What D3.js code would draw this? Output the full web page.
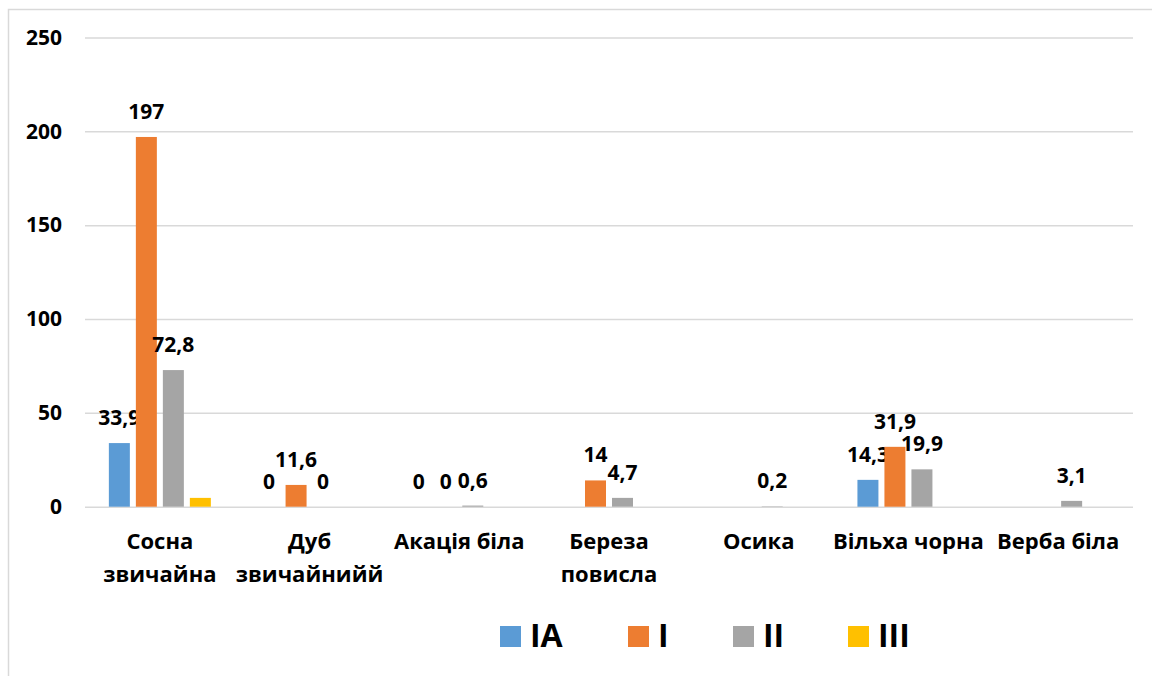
<!DOCTYPE html>
<html><head><meta charset="utf-8">
<script src="https://cdn.jsdelivr.net/npm/d3@7"></script>
<style>body{margin:0;background:#fff;}svg{display:block;font-family:"Open Sans",sans-serif;font-weight:bold;}</style>
</head><body>
<svg id="c" width="1152" height="676"></svg>
<script>
const categories = [["Сосна","звичайна"],["Дуб","звичайнийй"],["Акація біла"],["Береза","повисла"],["Осика"],["Вільха чорна"],["Верба біла"]];
const seriesNames = ["IA","I","II","III"];
const colors = ["#5B9BD5","#ED7D31","#A5A5A5","#FFC000"];
const valuesIA  = [33.9, 0, 0, null, null, 14.3, null];
const valuesI   = [197, 11.6, 0, 14, null, 31.9, null];
const valuesII  = [72.8, 0, 0.6, 4.7, 0.2, 19.9, 3.1];
const valuesIII = [4.7, null, null, null, null, null, null];
const labelled  = [true, true, true, false];
const yTicks = [0, 50, 100, 150, 200, 250];

const allValues = [valuesIA, valuesI, valuesII, valuesIII];
const svg = d3.select("#c");
svg.append("rect").attr("x",8.5).attr("y",9.5).attr("width",1160).attr("height",680)
  .attr("fill","none").attr("stroke","#D9D9D9").attr("stroke-width",1.5);

const x0 = d3.scaleBand().domain(d3.range(categories.length)).range([85, 1133]);
const y = d3.scaleLinear().domain([0, 250]).range([506.7, 37.5]);
const gw = 102;
const x1 = d3.scaleBand().domain(seriesNames).range([(x0.bandwidth()-gw)/2, (x0.bandwidth()+gw)/2]).paddingInner(6/27);

// gridlines
const yAxis = d3.axisLeft(y).tickValues(yTicks).tickSize(-(1133-85)).tickFormat(d => d);
const ga = svg.append("g").attr("transform","translate(85,0)").call(yAxis);
ga.select(".domain").remove();
ga.selectAll(".tick line").attr("stroke","#D9D9D9").attr("stroke-width",1.5);
ga.selectAll(".tick text").attr("x",-23).attr("fill","#000").style("font-size","21px").style("font-family","'Open Sans'").style("font-weight","bold");

// bars
seriesNames.forEach((s, si) => {
  const vals = allValues[si];
  const g = svg.append("g");
  vals.forEach((v, ci) => {
    if (v === null) return;
    const bx = x0(ci) + x1(s);
    g.append("rect").attr("x", bx).attr("y", y(v)).attr("width", x1.bandwidth())
      .attr("height", y(0) - y(v)).attr("fill", colors[si]);
    if (labelled[si]) {
      g.append("text").attr("x", bx + x1.bandwidth()/2).attr("y", y(v) - 18)
        .attr("text-anchor","middle").style("font-size","21px").text(String(v).replace(".", ","));
    }
  });
});

// category labels
categories.forEach((lines, ci) => {
  const t = svg.append("text").attr("text-anchor","middle").style("font-size","22px");
  lines.forEach((ln, li) => {
    t.append("tspan").attr("x", x0(ci) + x0.bandwidth()/2).attr("y", 549 + li*33).text(ln);
  });
});

// legend
const legX = [500, 628, 733, 848];
seriesNames.forEach((s, si) => {
  svg.append("rect").attr("x", legX[si]).attr("y", 626).attr("width", 21).attr("height", 21).attr("fill", colors[si]);
  svg.append("text").attr("x", legX[si] + 30).attr("y", 646.7).style("font-size","32px").text(s);
});
</script>
</body></html>
